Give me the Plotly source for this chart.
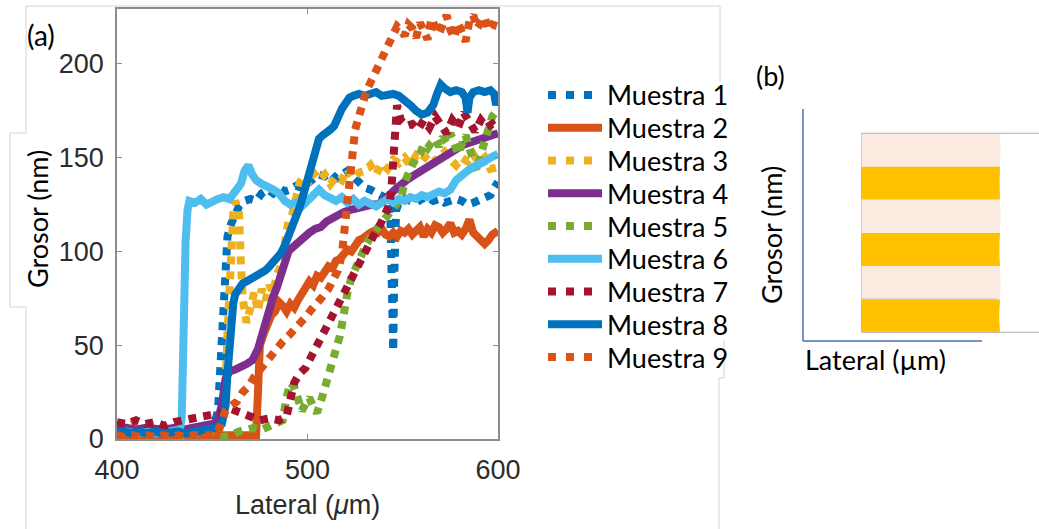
import plotly.graph_objects as go

# ---------------------------------------------------------------- data (a)
lateral_m1 = [400, 404, 408, 412, 416, 420, 424, 428, 432, 436, 440, 444, 448, 451, 453, 454, 455, 456, 457, 458,
              460, 462, 464, 467, 470, 473, 476, 479, 482, 485, 488, 491, 494, 497, 500, 503, 506, 509, 512, 515,
              518, 521, 524, 527, 530, 533, 536, 539, 542, 543.5, 544.5, 545, 545.5, 546.5, 548, 551, 554, 557,
              560, 563, 566, 569, 572, 575, 578, 581, 584, 587, 590, 593, 596, 598, 600]
grosor_m1 = [3, 4, 3, 4, 3, 3, 4, 3, 4, 3, 4, 4, 5, 8, 15, 35, 60, 82, 98, 108,
             115, 120, 124, 127, 128, 127, 131, 133, 131, 134, 132, 133, 135, 134, 136, 139, 141, 140, 142, 139,
             141, 143, 140, 137, 134, 133, 131, 130, 128, 118, 80, 47, 85, 122, 126, 128, 127, 126,
             128, 129, 127, 128, 126, 127, 128, 127, 125, 126, 127, 128, 130, 134, 137]

lateral_m2 = [400, 405, 410, 415, 420, 425, 430, 435, 440, 445, 450, 455, 460, 465, 470, 473, 474, 475, 477, 479,
              481, 483, 485, 487, 489, 491, 493, 495, 497, 499, 501, 503, 505, 507, 509, 511, 513, 515, 517, 519,
              521, 523, 525, 527, 529, 531, 533, 535, 537, 539, 541, 543, 545, 547, 549, 551, 553, 555, 557, 559,
              561, 563, 565, 567, 569, 571, 573, 575, 577, 579, 581, 583, 585, 587, 589, 591, 593, 595, 597, 600]
grosor_m2 = [2, 1, 2, 1, 2, 1, 2, 1, 2, 2, 2, 1, 2, 2, 2, 2, 25, 50, 56, 62,
             66, 68, 73, 71, 68, 72, 70, 74, 78, 80, 84, 82, 87, 86, 90, 92, 91, 95, 96, 99,
             101, 100, 104, 106, 107, 109, 110, 111, 110, 112, 109, 108, 110, 108, 111, 110, 112, 109, 111, 113,
             108, 112, 110, 114, 113, 110, 112, 115, 110, 111, 109, 112, 117, 110, 108, 106, 104, 106, 109, 111]

lateral_m3 = [400, 405, 410, 415, 420, 425, 430, 435, 440, 445, 450, 454, 457, 458, 459, 460, 461, 462, 464, 465,
              466, 468, 470, 472, 474, 476, 478, 480, 482, 484, 486, 488, 490, 492, 494, 496, 498, 500, 503, 506,
              509, 512, 515, 518, 521, 524, 527, 530, 533, 536, 539, 542, 545, 548, 551, 554, 557, 560, 563, 566,
              569, 572, 575, 578, 581, 584, 587, 590, 593, 596, 600]
grosor_m3 = [5, 7, 9, 8, 7, 5, 4, 4, 4, 4, 4, 6, 30, 56, 83, 106, 120, 127, 122, 95,
             75, 62, 70, 78, 68, 80, 74, 82, 78, 88, 92, 108, 116, 120, 130, 137, 140, 136, 142, 138,
             141, 136, 140, 138, 144, 139, 142, 143, 146, 141, 147, 144, 149, 147, 150, 146, 151, 148, 152, 148,
             150, 153, 149, 146, 150, 148, 152, 147, 150, 144, 145]

lateral_m4 = [400, 405, 410, 415, 420, 425, 430, 435, 440, 445, 450, 453, 455, 457, 459, 462, 465, 468, 471, 474,
              476, 478, 480, 482, 484, 486, 488, 490, 492, 495, 498, 501, 504, 507, 510, 513, 516, 519, 522, 525,
              528, 531, 534, 537, 540, 543, 546, 549, 552, 555, 558, 561, 564, 567, 570, 573, 576, 579, 582, 585,
              588, 591, 594, 597, 600]
grosor_m4 = [7, 6, 5, 6, 5, 5, 6, 5, 6, 7, 8, 10, 18, 32, 36, 37, 38, 40, 42, 48,
             55, 63, 70, 76, 81, 88, 95, 100, 102, 105, 107, 110, 112, 113, 116, 118, 120, 121, 122, 123,
             124, 124, 125, 125, 127, 130, 133, 136, 138, 140, 142, 143, 146, 148, 150, 152, 154, 156, 157, 158,
             159, 160, 161, 162, 163]

lateral_m5 = [400, 405, 410, 415, 420, 425, 430, 435, 440, 445, 450, 455, 460, 464, 468, 472, 476, 480, 484, 487,
              489, 491, 493, 495, 497, 499, 501, 503, 505, 507, 509, 511, 513, 515, 517, 519, 521, 523, 525, 528,
              531, 534, 537, 540, 543, 546, 549, 551, 553, 555, 557, 559, 561, 563, 565, 567, 569, 571, 573, 575,
              577, 579, 581, 583, 585, 587, 589, 591, 593, 595, 597, 600]
grosor_m5 = [1, 2, 1, 2, 1, 2, 1, 2, 1, 2, 2, 1, 2, 4, 5, 6, 5, 7, 8, 10,
             22, 30, 28, 20, 15, 19, 22, 17, 14, 20, 28, 34, 40, 48, 55, 68, 78, 86, 91, 98,
             104, 109, 113, 117, 121, 124, 128, 137, 143, 146, 150, 152, 157, 155, 158, 160, 156, 161, 158, 163,
             158, 152, 157, 162, 155, 150, 143, 152, 160, 167, 172, 176]

lateral_m6 = [400, 405, 410, 415, 420, 425, 430, 433, 434, 435, 436, 437, 438, 441, 444, 447, 450, 453, 456, 459,
              462, 465, 467, 469, 471, 473, 476, 479, 482, 485, 488, 491, 494, 497, 500, 503, 506, 509, 512, 515,
              518, 521, 524, 527, 530, 533, 536, 539, 542, 545, 548, 551, 554, 557, 560, 563, 566, 569, 572, 575,
              578, 581, 584, 587, 590, 593, 596, 600]
grosor_m6 = [3, 4, 3, 4, 3, 4, 4, 5, 12, 70, 105, 122, 127, 126, 128, 125, 127, 128, 129, 128,
             132, 136, 143, 146, 141, 138, 136, 135, 133, 131, 127, 125, 126, 124, 127, 131, 133, 130, 128, 127,
             129, 126, 128, 125, 127, 126, 124, 126, 128, 126, 128, 127, 129, 128, 130, 129, 131, 132, 131, 133,
             138, 141, 143, 145, 146, 148, 150, 152]

lateral_m7 = [400, 405, 410, 415, 420, 425, 430, 435, 440, 445, 450, 455, 460, 465, 470, 475, 480, 485, 489, 491,
              493, 496, 499, 502, 505, 508, 511, 514, 517, 520, 523, 526, 529, 532, 535, 538, 541, 543, 544, 545,
              546, 547, 549, 552, 555, 558, 561, 564, 567, 570, 573, 576, 579, 582, 585, 588, 591, 594, 597, 600]
grosor_m7 = [9, 8, 10, 8, 9, 7, 9, 10, 11, 12, 12, 14, 16, 14, 11, 10, 11, 10, 12, 22,
             30, 35, 38, 44, 50, 56, 62, 68, 75, 81, 86, 91, 98, 104, 109, 114, 120, 125, 133, 150,
             165, 178, 170, 167, 168, 165, 170, 166, 172, 168, 163, 170, 166, 174, 168, 164, 170, 166, 168, 165]

lateral_m8 = [400, 404, 408, 412, 416, 420, 424, 428, 432, 436, 440, 444, 448, 452, 455, 457, 458, 459, 460, 461,
              462, 464, 466, 468, 470, 472, 474, 476, 478, 480, 482, 484, 486, 488, 490, 492, 494, 496, 498, 500,
              502, 504, 506, 508, 510, 512, 514, 516, 518, 520, 522, 524, 527, 530, 533, 536, 539, 542, 545, 548,
              551, 554, 557, 560, 563, 566, 568, 570, 572, 575, 578, 581, 583, 584, 585, 587, 590, 593, 596, 598,
              599, 600]
grosor_m8 = [3, 4, 3, 4, 3, 4, 3, 4, 4, 3, 4, 4, 5, 6, 8, 18, 35, 52, 64, 72,
             77, 81, 83, 84, 85, 86, 87, 88, 90, 92, 94, 97, 99, 103, 108, 113, 118, 124, 131, 139,
             147, 154, 160, 162, 163, 165, 167, 172, 176, 179, 182, 183, 184, 183, 184, 185, 183, 184, 184, 183,
             181, 178, 175, 173, 174, 178, 184, 189, 187, 185, 186, 185, 182, 174, 182, 185, 186, 185, 186, 184,
             178, 183]

lateral_m9 = [400, 404, 408, 412, 416, 420, 424, 428, 432, 436, 440, 444, 448, 451, 453, 455, 457, 459, 461, 463,
              466, 469, 472, 475, 478, 481, 484, 487, 490, 493, 496, 499, 502, 505, 508, 511, 514, 516, 518, 519,
              520, 521, 522, 523, 525, 527, 529, 531, 533, 535, 537, 539, 541, 543, 545, 547, 549, 551, 553, 555,
              557, 559, 561, 563, 565, 567, 569, 571, 573, 575, 577, 579, 581, 583, 585, 587, 589, 591, 593, 595,
              597, 600]
grosor_m9 = [2, 1, 2, 1, 2, 1, 2, 1, 2, 1, 2, 2, 1, 2, 4, 10, 15, 17, 18, 20,
             25, 28, 33, 37, 41, 44, 48, 52, 55, 58, 62, 65, 69, 72, 76, 80, 85, 90, 98, 108,
             120, 132, 144, 155, 165, 172, 180, 186, 190, 194, 198, 202, 206, 212, 216, 220, 218, 215, 221, 219,
             214, 222, 218, 213, 224, 219, 216, 221, 226, 218, 214, 222, 217, 212, 223, 226, 219, 222, 225, 218,
             221, 220]

series_names = ["Muestra 1", "Muestra 2", "Muestra 3", "Muestra 4", "Muestra 5",
                "Muestra 6", "Muestra 7", "Muestra 8", "Muestra 9"]
series_x = [lateral_m1, lateral_m2, lateral_m3, lateral_m4, lateral_m5,
            lateral_m6, lateral_m7, lateral_m8, lateral_m9]
series_y = [grosor_m1, grosor_m2, grosor_m3, grosor_m4, grosor_m5,
            grosor_m6, grosor_m7, grosor_m8, grosor_m9]
series_colors = ["#0072BD", "#D95319", "#EDB120", "#7E2F8E", "#77AC30",
                 "#4DBEEE", "#A2142F", "#0072BD", "#D95319"]
series_dotted = [True, False, True, False, True, False, True, False, True]

x_ticks = [400, 500, 600]
y_ticks = [0, 50, 100, 150, 200]

# ---------------------------------------------------------------- schematic (b)
layer_colors = ["#FFC000", "#FBEADF", "#FFC000", "#FBEADF", "#FFC000", "#FBEADF"]  # bottom -> top
layer_bulge = [-0.012, 0.010, -0.008, 0.012, -0.006, 0.008]

W, H = 1039, 529


def px(x):
    return x / W


def py(y):
    return 1 - y / H


TICK_FONT = dict(family="Liberation Sans, Arial", size=27, color="#2b2b2b")
OFFICE_FONT = dict(family="Lato", size=27, color="#000000")
FRAME = "#8c8c8c"

fig = go.Figure()

# measured profiles
for name, xs, ys, col, dotted in zip(series_names, series_x, series_y, series_colors, series_dotted):
    fig.add_trace(go.Scatter(
        x=xs, y=ys, mode="lines", name=name, showlegend=False,
        line=dict(color=col, width=8 if dotted else 8, dash="8px,7px" if dotted else "solid"),
        xaxis="x", yaxis="y", hoverinfo="skip"))

# legend samples on their own small axis
for i, (name, col, dotted) in enumerate(zip(series_names, series_colors, series_dotted)):
    fig.add_trace(go.Scatter(
        x=[0, 1], y=[i + 1, i + 1], mode="lines", showlegend=False,
        line=dict(color=col, width=8, dash="8px,10px" if dotted else "solid"),
        xaxis="x3", yaxis="y3", hoverinfo="skip"))

annotations = []
for i, name in enumerate(series_names):
    annotations.append(dict(text=name, xref="x3", yref="y3", x=1, y=i + 1, xanchor="left",
                            yanchor="middle", xshift=3, showarrow=False, font=OFFICE_FONT))

# panel labels and axis titles
annotations += [
    dict(text="(a)", xref="paper", yref="paper", x=px(41), y=py(35), showarrow=False,
         font=dict(family="Lato", size=28, color="#000000"), xanchor="center", yanchor="middle"),
    dict(text="Grosor (nm)", xref="paper", yref="paper", x=px(38), y=py(219), textangle=-90,
         showarrow=False, font=OFFICE_FONT, xanchor="center", yanchor="middle"),
    dict(text="Lateral (<i>μ</i>m)", xref="paper", yref="paper", x=px(307), y=py(505), showarrow=False,
         font=TICK_FONT, xanchor="center", yanchor="middle"),
    dict(text="(b)", xref="paper", yref="paper", x=px(770), y=py(75), showarrow=False,
         font=OFFICE_FONT, xanchor="center", yanchor="middle"),
    dict(text="Grosor (nm)", xref="paper", yref="paper", x=px(771), y=py(235), textangle=-90,
         showarrow=False, font=OFFICE_FONT, xanchor="center", yanchor="middle"),
    dict(text="Lateral (µm)", xref="paper", yref="paper", x=px(875), y=py(359), showarrow=False,
         font=OFFICE_FONT, xanchor="center", yanchor="middle"),
]

shapes = []
# page outlines around panel (a)
GREY = dict(color="#d4d4d4", width=1)
outline = [
    (26, 6, 720, 6), (720, 6, 720, 82), (724, 340, 724, 378), (724, 378, 719, 378), (719, 378, 719, 529),
    (26, 6, 26, 133), (26, 133, 10, 133), (10, 133, 10, 307), (10, 307, 26, 307), (26, 307, 26, 529),
]
for x0, y0, x1, y1 in outline:
    shapes.append(dict(type="line", xref="paper", yref="paper", x0=px(x0), y0=py(y0),
                       x1=px(x1), y1=py(y1), line=GREY, layer="below"))

# schematic layers on axis x2/y2 (one unit per layer)
x_left, x_right = 0.0, 1.0
for k, (col, b) in enumerate(zip(layer_colors, layer_bulge)):
    y0, y1 = k, k + 1
    path = (f"M {x_left},{y0} L {x_right},{y0} "
            f"Q {x_right + b},{(y0 + y1) / 2} {x_right},{y1} L {x_left},{y1} Z")
    shapes.append(dict(type="path", xref="x2", yref="y2", path=path, fillcolor=col,
                       line=dict(width=0), layer="above"))
# grey outline of the schematic block
for x0, y0, x1, y1 in [(0, 0, 1.28, 0), (0, 6, 1.28, 6), (0, 0, 0, 6), (0, 1, 0.97, 1)]:
    shapes.append(dict(type="line", xref="x2", yref="y2", x0=x0, y0=y0, x1=x1, y1=y1,
                       line=dict(color="#c0c0c0", width=1.2), layer="above"))
# schematic axes
AX_B = dict(color="#4a6fb5", width=1.5)
shapes.append(dict(type="line", xref="paper", yref="paper", x0=px(803), y0=py(109),
                   x1=px(803), y1=py(341), line=AX_B))
shapes.append(dict(type="line", xref="paper", yref="paper", x0=px(803), y0=py(341),
                   x1=px(982), y1=py(341), line=AX_B))

hidden = dict(visible=False, fixedrange=True, automargin=False)

fig.update_layout(
    width=W, height=H, margin=dict(l=0, r=0, t=0, b=0, pad=0, autoexpand=False),
    paper_bgcolor="white", plot_bgcolor="white", showlegend=False,
    xaxis=dict(domain=[px(117), px(498)], range=[400, 600], tickvals=x_ticks,
               ticks="inside", ticklen=5, tickcolor=FRAME, tickwidth=1.2,
               showline=True, linecolor=FRAME, linewidth=1.6, mirror="allticks",
               showgrid=False, zeroline=False, tickfont=TICK_FONT, ticklabelstandoff=6,
               automargin=False),
    yaxis=dict(domain=[py(439), py(9)], range=[0, 229.3], tickvals=y_ticks,
               ticks="inside", ticklen=5, tickcolor=FRAME, tickwidth=1.2,
               showline=True, linecolor=FRAME, linewidth=1.6, mirror="allticks",
               showgrid=False, zeroline=False, tickfont=TICK_FONT, ticklabelstandoff=6,
               automargin=False),
    xaxis2=dict(domain=[px(861), px(1039)], range=[0, (1039 - 861) / (1000 - 861)], **hidden),
    yaxis2=dict(domain=[py(341), py(109)], anchor="x2",
                range=[-(341 - 332.3) / 33.17, (341 - 109) / 33.17 - (341 - 332.3) / 33.17], **hidden),
    xaxis3=dict(domain=[px(548), px(602)], range=[0, 1], **hidden),
    yaxis3=dict(domain=[py(374), py(78)], anchor="x3", range=[9.519, 0.481], **hidden),
    annotations=annotations, shapes=shapes,
)

fig.write_html("out.html")
